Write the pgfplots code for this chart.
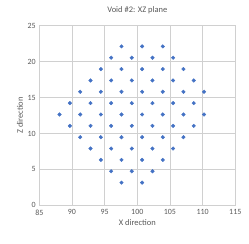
\documentclass[border=0pt]{standalone}
\usepackage{fontspec}
\setmainfont{Carlito}
\usepackage{pgfplots}
\pgfplotsset{compat=1.18}
\definecolor{txt}{HTML}{595959}
\definecolor{grd}{HTML}{D0D0D0}
\definecolor{mk}{HTML}{4472C4}
\begin{document}
\begin{tikzpicture}
\useasboundingbox (-39.3bp,-38.7bp) rectangle (209.7bp,205.3bp);
\begin{axis}[
  at={(0,0)}, anchor=south west,
  scale only axis, width=196bp, height=179.6bp,
  xmin=85, xmax=115, ymin=0, ymax=25,
  xtick={85,90,...,115}, ytick={0,5,...,25},
  grid=major,
  major grid style={grd, line width=0.7pt},
  axis line style={grd, line width=0.7pt},
  tick style={draw=none},
  /pgf/number format/assume math mode=true,
  ticklabel style={font=\fontsize{8}{9}\selectfont, text=txt},
  xticklabel style={yshift=-1bp},
  title={Void \#2: XZ plane},
  title style={font=\fontsize{8.5}{9}\selectfont, text=txt, at={(0.5,1)}, yshift=2bp},
  xlabel={X direction}, ylabel={Z direction},
  label style={font=\fontsize{8.5}{9}\selectfont, text=txt},
  xlabel style={yshift=3bp},
  ylabel style={yshift=-2bp},
]
\addplot[only marks, mark=*, mark size=1.8bp, mk, mark options={draw=mk, fill=mk}] table {
x y
97.58 22.12
100.74 22.12
103.90 22.12
96.00 20.54
99.16 20.54
102.32 20.54
105.48 20.54
94.42 18.96
97.58 18.96
100.74 18.96
103.90 18.96
107.06 18.96
92.84 17.38
96.00 17.38
99.16 17.38
102.32 17.38
105.48 17.38
108.64 17.38
91.26 15.80
94.42 15.80
97.58 15.80
100.74 15.80
103.90 15.80
107.06 15.80
110.22 15.80
89.68 14.22
92.84 14.22
96.00 14.22
99.16 14.22
102.32 14.22
105.48 14.22
108.64 14.22
88.10 12.64
91.26 12.64
94.42 12.64
97.58 12.64
100.74 12.64
103.90 12.64
107.06 12.64
110.22 12.64
89.68 11.06
92.84 11.06
96.00 11.06
99.16 11.06
102.32 11.06
105.48 11.06
108.64 11.06
91.26 9.48
94.42 9.48
97.58 9.48
100.74 9.48
103.90 9.48
107.06 9.48
92.84 7.90
96.00 7.90
99.16 7.90
102.32 7.90
105.48 7.90
94.42 6.32
97.58 6.32
100.74 6.32
103.90 6.32
96.00 4.74
99.16 4.74
102.32 4.74
97.58 3.16
100.74 3.16
};
\end{axis}
\end{tikzpicture}
\end{document}
